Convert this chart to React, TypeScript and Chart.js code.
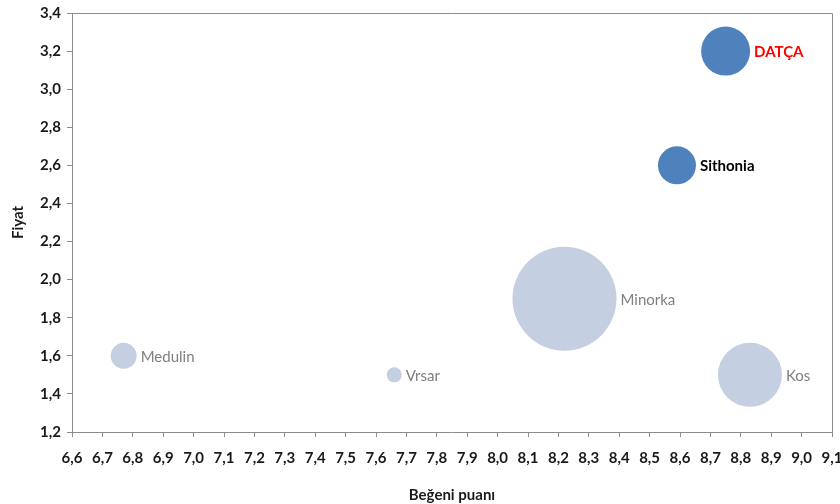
import React, { useEffect, useRef } from "react";
import { Chart, registerables } from "chart.js";

Chart.register(...registerables);

const names = ["Medulin", "Vrsar", "Minorka", "Kos", "Sithonia", "DATÇA"];
const score = [6.77, 7.66, 8.22, 8.83, 8.59, 8.75];
const price = [1.6, 1.5, 1.9, 1.5, 2.6, 3.2];
const bubbleSize = [13, 7.5, 52, 32, 19, 24.5];
const highlighted = [false, false, false, false, true, true];
const labelColors = ["#7f7f7f", "#7f7f7f", "#7f7f7f", "#7f7f7f", "#000000", "#ff0000"];

const xTitle = "Beğeni puanı";
const yTitle = "Fiyat";

const FONT = "Lato, 'Open Sans', sans-serif";

const fmt = (v: number) => v.toFixed(1).replace(".", ",");

const frameAndLabels = {
  id: "frameAndLabels",
  afterDatasetsDraw(chart: any) {
    const { ctx, chartArea } = chart;
    ctx.save();
    ctx.strokeStyle = "#8c8c8c";
    ctx.lineWidth = 1;
    ctx.beginPath();
    ctx.moveTo(chartArea.left, chartArea.top + 0.5);
    ctx.lineTo(chartArea.right + 0.5, chartArea.top + 0.5);
    ctx.lineTo(chartArea.right + 0.5, chartArea.bottom);
    ctx.stroke();
    const meta = chart.getDatasetMeta(0);
    meta.data.forEach((el: any, i: number) => {
      const r = bubbleSize[i];
      ctx.font = (highlighted[i] ? "bold " : "") + "15px " + FONT;
      ctx.fillStyle = labelColors[i];
      ctx.textAlign = "left";
      ctx.textBaseline = "middle";
      ctx.fillText(names[i], el.x + r + 4, el.y + 1);
    });
    ctx.restore();
  },
};

export default function App() {
  const ref = useRef<HTMLCanvasElement>(null);
  useEffect(() => {
    document.body.style.margin = "0";
    const chart = new Chart(ref.current!, {
      type: "bubble",
      data: {
        datasets: [
          {
            data: names.map((_, i) => ({ x: score[i], y: price[i], r: bubbleSize[i] })),
            backgroundColor: highlighted.map((h) => (h ? "#4f81bd" : "#c4cfe1")),
            borderColor: highlighted.map((h) => (h ? "#4f81bd" : "#c4cfe1")),
            borderWidth: 0,
            hoverRadius: 0,
          },
        ],
      },
      options: {
        responsive: false,
        animation: false,
        clip: false as any,
        layout: { autoPadding: false, padding: { left: 0, right: 8, top: 13, bottom: 0 } },
        plugins: { legend: { display: false }, tooltip: { enabled: false } },
        scales: {
          x: {
            type: "linear",
            min: 6.6,
            max: 9.1,
            afterFit: (s: any) => {
              s.height = 72;
              s.paddingLeft = 0;
              s.paddingRight = 0;
            },
            ticks: {
              stepSize: 0.1,
              autoSkip: false,
              maxRotation: 0,
              color: "#1a1a1a",
              font: { family: FONT, size: 15, weight: "bold" },
              padding: 12,
              callback: (v: any) => fmt(Number(v)),
            },
            grid: { drawOnChartArea: false, drawTicks: true, tickLength: 5, color: "#8c8c8c" },
            border: { display: true, color: "#8c8c8c" },
            title: {
              display: true,
              text: xTitle,
              color: "#1a1a1a",
              font: { family: FONT, size: 15, weight: "bold" },
              padding: { top: 4, bottom: 0 },
            },
          },
          y: {
            type: "linear",
            min: 1.2,
            max: 3.4,
            afterFit: (s: any) => {
              s.width = 72;
              s.paddingTop = 0;
              s.paddingBottom = 0;
            },
            ticks: {
              stepSize: 0.2,
              autoSkip: false,
              color: "#1a1a1a",
              font: { family: FONT, size: 15, weight: "bold" },
              padding: 6,
              callback: (v: any) => fmt(Number(v)),
            },
            grid: { drawOnChartArea: false, drawTicks: true, tickLength: 5, color: "#8c8c8c" },
            border: { display: true, color: "#8c8c8c" },
            title: {
              display: true,
              text: yTitle,
              color: "#1a1a1a",
              font: { family: FONT, size: 15, weight: "bold" },
              padding: { top: 9, bottom: 10 },
            },
          },
        },
      },
      plugins: [frameAndLabels],
    });
    return () => chart.destroy();
  }, []);
  return (
    <div style={{ width: 840, height: 504, background: "#fff" }}>
      <canvas ref={ref} width={840} height={504} />
    </div>
  );
}
